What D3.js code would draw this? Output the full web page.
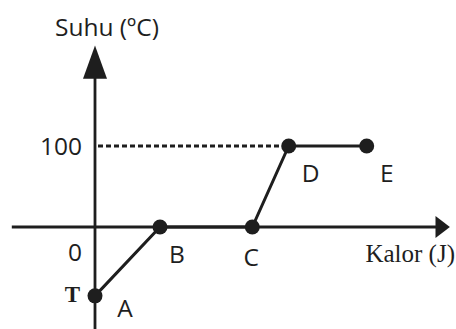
<!DOCTYPE html>
<html><head><meta charset="utf-8">
<script src="https://cdn.jsdelivr.net/npm/d3@7"></script>
<style>body{margin:0;background:#fff}svg{display:block}</style>
</head><body>
<script>
const labels = ["A","B","C","D","E"];
const kalor = [0, 1, 2.42, 2.98, 4.18];
const suhu = [-85, 0, 0, 100, 100];
const yTicks = [0, 100];
const yTickLabels = ["0", "100"];

const W = 456, H = 329;
const x = d3.scaleLinear().domain([0, 1]).range([95, 160]);
const y = d3.scaleLinear().domain([0, 100]).range([227, 146]);

const svg = d3.select("body").append("svg").attr("width", W).attr("height", H);
const ink = "#1e1e1e";
const sans = "'Open Sans', sans-serif";
const serif = "'Liberation Serif', serif";
const fs = 24.5;

// axes
svg.append("line").attr("x1", x(-1.28)).attr("x2", x(5.3)).attr("y1", y(0)).attr("y2", y(0))
  .attr("stroke", ink).attr("stroke-width", 2.8);
svg.append("path").attr("d", `M${x(5.3)-4},${y(0)-11} L${x(5.46)},${y(0)} L${x(5.3)-4},${y(0)+11} Z`).attr("fill", ink);
svg.append("line").attr("x1", x(0)).attr("x2", x(0)).attr("y1", y(-130)).attr("y2", y(190))
  .attr("stroke", ink).attr("stroke-width", 2.8);
svg.append("path").attr("d", `M${x(0)-12},${y(188)+4} L${x(0)},${y(224)} L${x(0)+12},${y(188)+4} Z`).attr("fill", ink);

// dashed line at 100
svg.append("line").attr("x1", x(0)+3).attr("x2", x(kalor[3])).attr("y1", y(100)).attr("y2", y(100))
  .attr("stroke", ink).attr("stroke-width", 2.8).attr("stroke-dasharray", "5,3");

// data line
const line = d3.line().x((d,i)=>x(kalor[i])).y((d,i)=>y(suhu[i]));
svg.append("path").datum(suhu).attr("d", line).attr("fill", "none").attr("stroke", ink).attr("stroke-width", 3);
svg.selectAll("circle.p").data(labels).join("circle").attr("class","p")
  .attr("cx", (d,i)=>x(kalor[i])).attr("cy", (d,i)=>y(suhu[i])).attr("r", 7.5).attr("fill", ink);

// tick labels
svg.append("text").attr("x", 82).attr("y", y(100)).attr("dy", "0.35em").attr("text-anchor", "end")
  .attr("font-family", sans).attr("font-size", fs).attr("fill", ink).text(yTickLabels[1]);
svg.append("text").attr("x", 82).attr("y", 252).attr("dy", "0.35em").attr("text-anchor", "end")
  .attr("font-family", sans).attr("font-size", fs).attr("fill", ink).text(yTickLabels[0]);

// point labels
const offs = [[30, 13], [17, 27], [-1, 30], [22, 27], [20, 27]];
svg.selectAll("text.lab").data(labels).join("text").attr("class","lab")
  .attr("x", (d,i)=>x(kalor[i])+offs[i][0]).attr("y", (d,i)=>y(suhu[i])+offs[i][1])
  .attr("dy", "0.35em").attr("text-anchor", "middle")
  .attr("font-family", sans).attr("font-size", fs).attr("fill", ink).text(d=>d);

// T label
svg.append("text").attr("x", 80).attr("y", y(suhu[0])-2).attr("dy", "0.35em").attr("text-anchor", "end")
  .attr("font-family", serif).attr("font-weight", "bold").attr("font-size", 23).attr("fill", ink).text("T");

// axis titles
svg.append("text").attr("x", 55).attr("y", 27).attr("dy", "0.35em")
  .attr("font-family", sans).attr("font-size", fs).attr("fill", ink).text("Suhu (ºC)");
svg.append("text").attr("x", 455).attr("y", 253).attr("dy", "0.35em").attr("text-anchor", "end")
  .attr("font-family", serif).attr("font-size", 25).attr("fill", ink).text("Kalor (J)");
</script>
</body></html>
